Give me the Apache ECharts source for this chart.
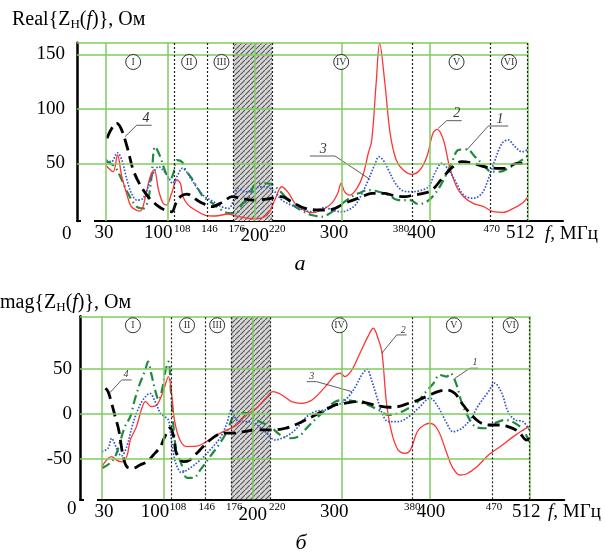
<!DOCTYPE html>
<html><head><meta charset="utf-8">
<script src="https://cdn.jsdelivr.net/npm/echarts@6/dist/echarts.min.js"></script>
<style>html,body{margin:0;padding:0;background:#fff}#c{width:605px;height:554px}</style>
</head><body><div id="c"></div>
<script>
// ---------- axis / tick data ----------
const freqTicks = [30, 100, 108, 146, 176, 200, 220, 300, 380, 400, 470, 512];
const smallTicks = [108, 146, 176, 220, 380, 470];
const greenX = [30, 100, 200, 300, 400, 512];
const dottedX = [108, 146, 176, 220, 380, 470, 512];
const hatchBand = [176, 220];
const realTicks = [50, 100, 150];
const magTicks = [-50, 0, 50];
const realHLines = [50, 100, 150, 160.6];
const magHLines = [-50, 0, 50, 108];
const zoneNames = ['I', 'II', 'III', 'IV', 'V', 'VI'];
const zoneFreqReal = [61, 125, 162, 299, 431, 491];
const zoneFreqMag = [65, 126, 160, 298, 427, 491];
const zoneLevelReal = 142.9;
const zoneLevelMag = 98.1;

// ---------- Real{Z(f)} curves ----------
const real1 = [[30,52],[40,46.9],[48,34.7],[55,22.5],[65,10.2],[73,8.7],[78,16.3],[82,37.7],[86,65.2],[92,56.1],[97,43.9],[103,34.7],[107,40.8],[111,53],[117,51.2],[121,43.9],[128,36.2],[136,25.5],[141,19.4],[149,14.8],[162,7.2],[170,4.4],[179,4.4],[185,11.7],[193,17.9],[200,30.1],[212,31.7],[221,30.1],[235,19.4],[244,11.7],[256,5.6],[265,2.6],[277,1],[286,4.1],[296,10.2],[303,14.8],[311,19.4],[319,22.5],[330,25.5],[342,23.9],[353,20.9],[364,16.3],[378,16.3],[387,12.7],[397,14.8],[408,23.9],[416,34.7],[426,51.5],[433,62.2],[443,62.8],[452,56.1],[462,48.4],[471,42.3],[481,42.3],[490,45.4],[500,50],[512,56.5]];
const real2 = [[30,48],[38,42.3],[43,57.6],[48,37.7],[54,20.9],[59,10.2],[69,6.2],[75,19.1],[80,36.5],[85,43.9],[90,25.5],[95,13.6],[99,11.7],[105,22.5],[111,34.7],[115,31.7],[118,19.4],[124,11.7],[132,7.2],[143,2.6],[155,1.7],[170,3.5],[178,1.7],[189,0],[200,-1],[214,2.6],[223,16.3],[231,28.5],[239,22.5],[246,13.3],[256,7.2],[265,4.7],[277,7.2],[288,13.3],[295,22.5],[299,31.7],[303,23.9],[309,20.9],[317,27.1],[324,39.3],[330,59.2],[334,71.4],[339,123.4],[343,160],[349,123.4],[355,77.5],[362,53],[370,43.9],[380,39.9],[389,43.9],[397,56.1],[404,77.5],[409,81.2],[416,71.4],[423,46.9],[431,28.5],[439,19.4],[450,13.3],[462,10.2],[473,5.6],[484,5],[496,8.7],[507,13.9],[512,18.8]];
const real3 = [[30,53],[36,51.5],[43,59.7],[48,53],[52,40.8],[55,31.6],[59,22.5],[65,16.3],[71,17],[76,23.9],[80,33.1],[85,42.3],[90,46.9],[95,43.9],[101,37.7],[106,31.7],[109,34.7],[113,40.8],[117,45.4],[122,42.3],[128,34.7],[136,25.5],[143,19.4],[153,14.8],[162,10.2],[170,8.7],[176,16.3],[181,27.1],[189,23.9],[197,23.9],[204,28.3],[212,28.5],[223,23.9],[231,16.3],[242,11.7],[254,7.8],[265,5.6],[273,7.2],[281,9.6],[288,7.2],[300,5.6],[307,7.2],[315,11.7],[323,22.5],[330,34.7],[338,50],[342,56.1],[347,53],[353,43.9],[361,31.7],[368,25.5],[378,23.9],[389,24.9],[399,28.5],[406,40.8],[414,50],[422,43.9],[431,31.7],[439,20.9],[450,17.9],[460,22.5],[467,34.7],[475,53],[483,68.3],[490,71.4],[498,65.2],[506,60.6],[512,62.2]];
const real4 = [[31,73],[42,86.7],[47,82.1],[54,65.2],[61,43.9],[69,30.1],[78,19.4],[88,11.7],[97,7.2],[105,5.6],[110,13.6],[115,19.4],[122,21.8],[137,14.8],[151,10.2],[164,14.8],[174,19.4],[185,17.9],[198,16.3],[214,17.2],[231,19.4],[242,14.8],[258,8.7],[281,7.2],[292,8.7],[303,13.3],[323,19.4],[334,22.5],[349,22.5],[357,20.9],[372,19.4],[382,20.9],[393,22.5],[403,25.5],[416,37.7],[427,46.9],[437,51.5],[450,50],[462,46.9],[477,45.4],[486,45.4],[500,50],[512,50]];

// ---------- Imag{Z(f)} curves ----------
const mag1 = [[30,-60.1],[39,-54.5],[45,-47.2],[50,-32.4],[56,-14],[62,-3],[67,15.5],[73,34],[79,48.7],[82,57.9],[86,43.1],[90,26.5],[94,15.5],[99,32.1],[101,45],[105,57.9],[108,22.9],[111,-17.7],[114,-39.8],[120,-56.4],[126,-70.8],[133,-70.8],[141,-61.9],[152,-47.2],[163,-32.4],[171,-19.6],[178,-3.3],[186,0.8],[193,0.8],[201,-4.8],[208,-8.5],[220,-14],[231,-23.2],[242,-26.9],[253,-24.3],[259,-17.7],[270,-6.6],[282,4.4],[293,13.6],[304,15.5],[316,13.6],[330,10],[342,4.4],[353,-1.1],[364,0.8],[376,6.3],[383,10],[394,22.9],[404,34],[411,43.1],[419,41.3],[423,45],[430,32.1],[436,11.8],[443,-3],[451,-14],[462,-15.8],[473,-10.3],[485,-6.6],[496,-10.3],[505,-17.7],[512,-30.6]];
const mag2 = [[30,-58.3],[41,-47.2],[47,-51.4],[52,-53.1],[58,-47.2],[62,-28.8],[69,-14],[75,6.3],[79,13.6],[86,8.1],[92,10],[99,24.7],[105,41.3],[109,19.1],[112,-7.7],[118,-28.8],[126,-36.2],[137,-35.7],[148,-30.6],[160,-23.2],[171,-17.7],[182,-12.2],[191,-3],[206,8.1],[215,17.7],[223,24.7],[233,21],[244,13.6],[255,11.8],[267,15.5],[282,30.2],[293,43.1],[299,45],[304,41.3],[312,48.7],[321,67.1],[330,85.5],[336,94.8],[342,81.9],[346,67.1],[351,11.8],[357,-21.3],[364,-39.8],[372,-43.5],[378,-39.8],[387,-17.7],[400,-10.3],[409,-17.7],[419,-43.5],[426,-60.1],[434,-67.5],[441,-66.4],[453,-58.3],[466,-45.4],[479,-36.2],[494,-25.1],[505,-17.7],[512,-14]];
const mag3 = [[30,-41.7],[37,-37.9],[41,-26.9],[45,-34.3],[49,-43.5],[52,-46.5],[58,-36.2],[64,-14],[69,0.8],[75,13.6],[81,21],[84,22.9],[90,13.6],[96,0.8],[101,-3],[105,-6.6],[107,-17.7],[110,-39.8],[114,-56.4],[120,-64.9],[129,-60.1],[141,-50.9],[152,-39.8],[163,-26.9],[171,-10.3],[176,4.4],[182,-6.6],[190,-8.5],[197,-8.5],[205,-12.2],[216,-21.3],[225,-28.8],[237,-25.1],[248,-17.7],[259,-4.8],[270,2.5],[282,4.4],[291,8.1],[300,11.8],[308,19.1],[316,30.2],[323,43.1],[329,49.4],[334,37.6],[340,19.1],[346,0.8],[353,-8.5],[364,-8.5],[376,-3],[387,6.3],[400,17.4],[409,8.1],[419,-10.3],[426,-19.6],[436,-15.8],[445,-6.6],[455,10],[466,24.7],[473,34],[481,22.9],[488,2.5],[496,-6.6],[505,-8.5],[512,-17.7]];
const mag4 = [[34,28.4],[37,24.7],[41,11.8],[45,-3],[49,-17.7],[52,-36.2],[54,-47.2],[58,-58.3],[65,-60.1],[73,-56.4],[81,-52.8],[88,-45.4],[96,-36.2],[101,-25.1],[107,-15.5],[111,-25.4],[114,-43.5],[122,-52.8],[129,-50.9],[137,-43.5],[144,-36.2],[152,-28.8],[160,-23.2],[167,-21.3],[178,-21.3],[190,-19.6],[206,-17.7],[222,-17.7],[237,-15.8],[252,-10.3],[267,-3],[282,4.4],[293,10],[304,11.8],[319,13.6],[330,11.8],[342,8.8],[353,7.4],[364,8.1],[376,11.8],[387,15.5],[400,21],[409,24.7],[419,26.5],[428,22.9],[436,11.8],[445,0.8],[455,-8.5],[466,-12.2],[477,-12.2],[488,-14],[500,-19.6],[509,-28.8],[512,-27]];

// ---------- curve number callouts (leader polyline + label anchor, data units) ----------
const notesReal = [
  {t:'4', line:[[51.6,74.4],[65,84.9],[82.2,84.9]], at:[75.6,91]},
  {t:'3', line:[[331.9,35.3],[291.9,56.7],[263.2,56.7]], at:[278.5,62.5]},
  {t:'2', line:[[410.1,82.1],[419.7,89.1],[436.9,89.1]], at:[431.2,95.5]},
  {t:'1', line:[[442.6,62.2],[467.3,84.2],[490.2,84.2]], at:[480.7,90]}
];
const notesMag = [
  {t:'4', line:[[39.1,23.6],[52.3,37.6],[63.6,37.6]], at:[57.2,44]},
  {t:'3', line:[[311.7,24.7],[272.2,35.7],[261,35.7]], at:[266.6,42]},
  {t:'2', line:[[345.6,67.1],[362.5,87.4],[373.7,87.4]], at:[369.9,92]},
  {t:'1', line:[[428.2,39.5],[445.1,50.6],[454.5,50.6]], at:[450.8,57.5]}
];

// ---------- rendering ----------
const SERIF = 'Liberation Serif';
// horizontal nudge (px) of each tick label, as typeset in the original
const labelNudge = [
  {30:-2, 100:-9, 108:8, 146:2, 176:3, 200:0, 220:5, 300:-8, 380:-11, 400:-8, 470:1, 512:-7},
  {30:2, 100:-9, 108:7, 146:2, 176:3, 200:0, 220:7, 300:-7, 380:0, 400:1, 470:2, 512:-3}
];
const hatchCanvas = (function () {
  const c = document.createElement('canvas'); c.width = 5; c.height = 5;
  const g = c.getContext('2d');
  g.fillStyle = '#d6d6d6'; g.fillRect(0, 0, 5, 5);
  g.strokeStyle = '#555'; g.lineWidth = 1.1;
  g.beginPath(); g.moveTo(-1, 6); g.lineTo(6, -1); g.stroke();
  return c;
})();

const axesCfg = [
  {grid: {left: 77, top: 42.7, width: 486, height: 178.3}, xmin: -3.3, xmax: 552.8, ymin: -2.9, ymax: 160.6, ticks: realTicks, hl: realHLines},
  {grid: {left: 80, top: 316.3, width: 484.3, height: 183}, xmin: 5.3, xmax: 551.5, ymin: -94.4, ymax: 108, ticks: magTicks, hl: magHLines}
];

function makeRich(nudge) {
  const rich = {};
  freqTicks.forEach(function (n) {
    const small = smallTicks.indexOf(n) >= 0;
    const dx = nudge[n] || 0;
    rich['v' + n] = {
      fontSize: small ? 11 : 19, fontFamily: SERIF, color: '#000', lineHeight: small ? 12 : 21,
      padding: [n === 200 ? 6 : 0, dx < 0 ? -2 * dx : 0, 0, dx > 0 ? 2 * dx : 0]
    };
  });
  return rich;
}
function xLabelFmt(v) { const n = Math.round(v); return '{v' + n + '|' + n + '}'; }

const grids = [], xAxes = [], yAxes = [], series = [];
axesCfg.forEach(function (cfg, ix) {
  grids.push(cfg.grid);
  xAxes.push({
    type: 'value', gridIndex: ix, min: cfg.xmin, max: cfg.xmax,
    axisLine: {show: true, onZero: false, lineStyle: {color: '#000', width: 2}},
    axisTick: {show: false}, splitLine: {show: false},
    axisLabel: {customValues: freqTicks, formatter: xLabelFmt, margin: 2, color: '#000', rich: makeRich(labelNudge[ix])}
  });
  yAxes.push({
    type: 'value', gridIndex: ix, min: cfg.ymin, max: cfg.ymax,
    axisLine: {show: true, onZero: false, lineStyle: {color: '#000', width: 2.5}},
    axisTick: {show: false}, splitLine: {show: false},
    axisLabel: {customValues: cfg.ticks, fontSize: 19, fontFamily: SERIF, color: '#000', margin: ix === 0 ? 12 : 8}
  });
  // hatched band
  series.push({
    type: 'line', xAxisIndex: ix, yAxisIndex: ix, data: [], z: 1, silent: true,
    markArea: {silent: true, itemStyle: {color: {image: hatchCanvas, repeat: 'repeat'}}, data: [[{xAxis: hatchBand[0]}, {xAxis: hatchBand[1]}]]}
  });
  // grid lines
  const ml = [];
  cfg.hl.forEach(function (v) { ml.push([{coord: [cfg.xmin, v]}, {coord: [512, v]}]); });
  greenX.forEach(function (x) { ml.push({xAxis: x}); });
  dottedX.forEach(function (x) { ml.push({xAxis: x, lineStyle: {color: '#222', width: 1.2, type: [2, 2]}}); });
  series.push({
    type: 'line', xAxisIndex: ix, yAxisIndex: ix, data: [], z: 2, silent: true,
    markLine: {silent: true, symbol: ['none', 'none'], label: {show: false}, animation: false,
      lineStyle: {color: '#7fcc5f', width: 1.5, type: 'solid'}, data: ml}
  });
});

function curve(ix, data, color, width, type) {
  return {type: 'line', xAxisIndex: ix, yAxisIndex: ix, data: data, symbol: 'none', smooth: 0.35, silent: true, z: 3,
    lineStyle: {color: color, width: width, type: type, cap: 'butt'}};
}
const GREEN = '#1f8a3e', RED = '#ff3535', BLUE = '#3a55cc', BLACK = '#000';
[[real1, real2, real3, real4], [mag1, mag2, mag3, mag4]].forEach(function (set, ix) {
  series.push(curve(ix, set[0], GREEN, 2.2, [9, 4, 1.5, 4]));
  series.push(curve(ix, set[1], RED, 1.3, 'solid'));
  series.push(curve(ix, set[2], BLUE, 1.7, [1.6, 1.6]));
  series.push(curve(ix, set[3], BLACK, 2.8, [12, 6]));
});

// callouts
[[notesReal, 14], [notesMag, 10]].forEach(function (pair, ix) {
  pair[0].forEach(function (n) {
    series.push({type: 'line', xAxisIndex: ix, yAxisIndex: ix, data: n.line, symbol: 'none', silent: true, z: 4,
      lineStyle: {color: '#333', width: 0.8}});
  });
  series.push({type: 'scatter', xAxisIndex: ix, yAxisIndex: ix, symbolSize: 0, silent: true, z: 5,
    data: pair[0].map(function (n) { return {value: n.at, name: n.t}; }),
    label: {show: true, position: 'inside', formatter: '{b}', fontSize: pair[1], fontStyle: 'italic', fontFamily: SERIF, color: '#000'}});
});

// zone markers
[[zoneFreqReal, zoneLevelReal], [zoneFreqMag, zoneLevelMag]].forEach(function (pair, ix) {
  series.push({type: 'scatter', xAxisIndex: ix, yAxisIndex: ix, symbol: 'circle', symbolSize: 15, silent: true, z: 6,
    itemStyle: {color: '#fff', borderColor: '#000', borderWidth: 1},
    data: pair[0].map(function (f, i) { return {value: [f, pair[1]], name: zoneNames[i]}; }),
    label: {show: true, position: 'inside', formatter: '{b}', fontSize: 10, fontFamily: SERIF, color: '#000'}});
});

const titleRich = {
  z: {fontSize: 20, fontFamily: SERIF, lineHeight: 22},
  s: {fontSize: 13, fontFamily: SERIF, lineHeight: 14, verticalAlign: 'bottom'},
  i: {fontSize: 20, fontFamily: SERIF, fontStyle: 'italic', lineHeight: 22},
  a: {fontSize: 20, fontFamily: SERIF, lineHeight: 22}
};
function txt(x, y, text, opts) {
  return {type: 'text', x: x, y: y, z: 50, style: Object.assign({text: text, fill: '#000', font: '19px ' + SERIF, verticalAlign: 'middle'}, opts || {})};
}
const graphics = [
  {type: 'rect', shape: {x: 81, y: 214, width: 13, height: 12}, style: {fill: '#fff'}, z: 40},
  {type: 'rect', shape: {x: 84, y: 492, width: 13, height: 12}, style: {fill: '#fff'}, z: 40},
  txt(62, 234, '0'),
  txt(67, 509, '0'),
  Object.assign(txt(88, 219, '≈', {font: '15px ' + SERIF, align: 'center'}), {rotation: 1.25, originX: 88, originY: 219}),
  Object.assign(txt(91, 498, '≈', {font: '15px ' + SERIF, align: 'center'}), {rotation: 1.25, originX: 91, originY: 498}),
  txt(12, 20, 'Real{{z|Z}{s|Н}{a|(}{i|f}{a|)}}, Ом', {font: '20px ' + SERIF, rich: titleRich}),
  txt(0, 303, 'mag{{z|Z}{s|Н}{a|(}{i|f}{a|)}}, Ом', {font: '20px ' + SERIF, rich: titleRich}),
  txt(545, 234, '{i|f}, МГц', {font: '19px ' + SERIF, rich: {i: {fontSize: 19, fontStyle: 'italic', fontFamily: SERIF}}}),
  txt(548, 512, '{i|f}, МГц', {font: '19px ' + SERIF, rich: {i: {fontSize: 19, fontStyle: 'italic', fontFamily: SERIF}}}),
  txt(300, 264, 'а', {font: 'italic 22px ' + SERIF, align: 'center'}),
  txt(301, 543, 'б', {font: 'italic 22px ' + SERIF, align: 'center'})
];

const chart = echarts.init(document.getElementById('c'), null, {renderer: 'canvas'});
chart.setOption({
  animation: false,
  backgroundColor: '#fff',
  grid: grids, xAxis: xAxes, yAxis: yAxes, series: series, graphic: graphics
});
</script></body></html>
